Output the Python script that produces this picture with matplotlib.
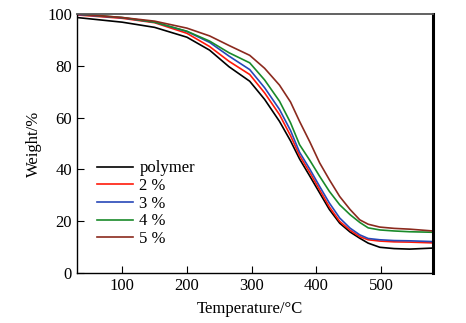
import matplotlib
matplotlib.use("Agg")
import matplotlib.pyplot as plt

plt.rcParams['font.family'] = ['Liberation Serif', 'DejaVu Serif']

# temperature (°C) and weight (%)
temp = [30, 100, 150, 200, 235, 265, 297, 320, 343, 360, 374, 390, 405, 420, 436, 452, 467, 480, 498, 520, 544, 580]
polymer = [98.6, 96.8, 94.8, 91.0, 86.0, 79.6, 74.0, 67.0, 58.5, 51.0, 44.0, 37.3, 30.9, 24.5, 19.2, 15.8, 13.4, 11.5, 9.9, 9.4, 9.2, 9.6]
p2 = [99.6, 98.3, 96.6, 92.5, 87.4, 81.7, 76.6, 69.5, 61.1, 53.0, 45.3, 38.7, 32.1, 25.5, 19.9, 16.5, 14.0, 12.8, 12.3, 12.0, 11.9, 11.6]
p3 = [99.8, 98.5, 96.8, 93.2, 89.0, 83.7, 78.5, 71.5, 63.1, 55.0, 46.6, 40.0, 33.4, 27.0, 21.2, 17.3, 14.7, 13.3, 12.8, 12.5, 12.4, 12.1]
p4 = [100.0, 98.6, 96.8, 93.3, 89.5, 85.0, 81.1, 74.5, 66.3, 58.0, 49.5, 43.4, 37.3, 31.5, 26.3, 22.5, 19.5, 17.4, 16.6, 16.2, 15.9, 15.7]
p5 = [100.0, 98.6, 97.2, 94.5, 91.5, 87.8, 84.0, 79.0, 72.5, 66.0, 58.5, 50.5, 42.5, 36.0, 29.5, 24.5, 20.5, 18.8, 17.7, 17.2, 16.9, 16.2]

labels = ['polymer', '2 %', '3 %', '4 %', '5 %']
colors = ['#000000', '#ff1a0a', '#2848b8', '#1a8a2a', '#8b2a1e']

fig = plt.figure(figsize=(4.66, 3.23), dpi=100)
ax = fig.add_axes([0.165, 0.155, 0.764, 0.802])

for y, lab, c in zip([polymer, p2, p3, p4, p5], labels, colors):
    ax.plot(temp, y, color=c, lw=1.2, label=lab)

ax.set_xlim(30, 580)
ax.set_ylim(0, 100)
ax.set_xticks([100, 200, 300, 400, 500])
ax.set_yticks([0, 20, 40, 60, 80, 100])
ax.tick_params(direction='in', length=5, width=0.8, labelsize=12, top=False, right=False)
ax.set_xlabel('Temperature/°C', fontsize=12)
ax.set_ylabel('Weight/%', fontsize=12)
ax.xaxis.set_label_coords(0.485, -0.108)
ax.yaxis.set_label_coords(-0.098, 0.5)

ax.spines['top'].set_color('#555555')
ax.spines['top'].set_linewidth(1.3)
ax.spines['right'].set_linewidth(2.2)
ax.spines['left'].set_linewidth(1.0)
ax.spines['bottom'].set_linewidth(1.0)

ax.legend(loc='upper left', bbox_to_anchor=(0.037, 0.46), frameon=False, fontsize=12,
          handlelength=2.2, handletextpad=0.35, labelspacing=0.1, borderaxespad=0)

fig.savefig('out.png', dpi=100)
